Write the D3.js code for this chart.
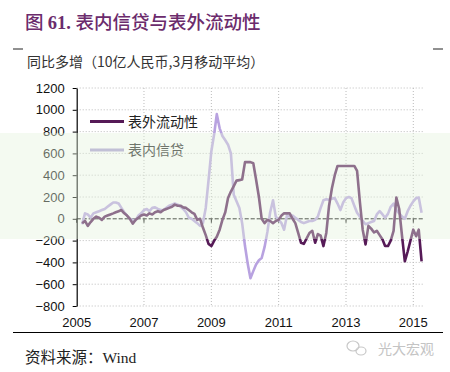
<html>
<head>
<meta charset="utf-8">
<script src="https://cdn.jsdelivr.net/npm/d3@7"></script>
<style>
  body { margin: 0; background: #fff; }
  text { font-family: "Liberation Sans", Arial, "Noto Sans CJK SC", sans-serif; }
  .cjk { font-family: "Noto Sans CJK SC", sans-serif; }
</style>
</head>
<body>
<script>
// 3-month moving average, yoy increase, bn RMB, monthly Mar 2005 .. Apr 2015
var offBalance = [
  -40, -20, -65, -30, 0, 20, 10, -10, 20, 30,                 // 2005 Mar-Dec
  40, 50, 60, 70, 80, 50, 30, 0, -45, -10, 10, 30,            // 2006
  40, 30, 50, 40, 60, 70, 60, 80, 90, 100, 110, 130,          // 2007
  120, 120, 105, 100, 80, 60, 45, -10, 0, -80, -150, -230,    // 2008
  -250, -200, -165, -100, -10, 60, 190, 250, 300, 350, 355, 360, // 2009
  520, 520, 520, 510, 360, 200, 0, -40, -10, -20, -40, -20,   // 2010
  -10, 30, 50, 50, 50, 0, -40, -130, -220, -230, -180, -130,  // 2011
  -110, -220, -140, -155, -250, -130, 120, 280, 400, 485, 485, 485, // 2012
  485, 485, 485, 485, 440, 150, -100, -235, -65, -90, -125, -110,   // 2013
  -150, -190, -250, -250, -200, -110, 195, 90, -160, -390, -300, -200, // 2014
  -100, -160, -100, -390                                      // 2015 Jan-Apr
];
var onBalance = [
  -50, 50, 40, 10, 50, 60, 70, 80, 90, 110,
  130, 150, 150, 140, 100, 60, 30, 0, -10, -15, 30, 50,
  80, 90, 70, 100, 105, 90, 80, 80, 100, 120, 130, 140,
  130, 110, 90, 60, 10, 0, -20, -40, -65, -40, 100, 350,
  620, 780, 960, 830, 760, 720, 680, 600, 220, 160, 100, -40,
  -250, -420, -545, -480, -420, -380, -360, -260, -120, 60, 170, 20,
  -10, -40, -100, 30, 20, 30, 10, -10, -30, -40, -30, -20,
  -20, -10, 20, 100, 170, 180, 175, 185, 190, 140, 80, 150,
  190, 200, 190, 120, 55, 20, -20, -50, -40, -30, -20, 40,
  70, 40, 10, 45, 110, 140, 80, 50, 20, 0, 70, 120,
  160, 190, 195, 55
];
var months = d3.timeMonth.range(new Date(2005, 2, 1), new Date(2015, 4, 1));
var yTicks = [-800, -600, -400, -200, 0, 200, 400, 600, 800, 1000, 1200];
var xTickYears = [2005, 2007, 2009, 2011, 2013, 2015];
var seriesNames = ['表外流动性', '表内信贷'];

var w = 450, h = 372;
var pLeft = 76.7, pRight = 423, pTop = 88, pBottom = 306;

var svg = d3.select('body').append('svg')
  .attr('width', w)
  .attr('height', h);

var x = d3.scaleTime()
  .domain([new Date(2005, 0, 1), new Date(2015, 0, 1)])
  .range([pLeft, 413.3]);
var y = d3.scaleLinear()
  .domain([-800, 1200])
  .range([pBottom, pTop]);

// title
var title = svg.append('text')
  .attr('x', 25).attr('y', 29)
  .attr('fill', '#6b2b6c')
  .style('font-size', '18.5px');
title.append('tspan').attr('class', 'cjk').style('font-weight', 500).text('图 ');
title.append('tspan').style('font-family', '"Liberation Serif", serif').style('font-weight', 'bold').text('61. ');
title.append('tspan').attr('class', 'cjk').style('font-weight', 500).text('表内信贷与表外流动性');

svg.append('line').attr('x1', 13).attr('x2', 23).attr('y1', 49).attr('y2', 49).attr('stroke', '#222');
svg.append('line').attr('x1', 433).attr('x2', 443).attr('y1', 49).attr('y2', 49).attr('stroke', '#222');

svg.append('text')
  .attr('class', 'cjk')
  .attr('x', 27).attr('y', 67)
  .attr('fill', '#333')
  .style('font-size', '14px')
  .text('同比多增（10亿人民币,3月移动平均）');

// grid
svg.append('g').selectAll('line')
  .data(yTicks).enter()
  .append('line')
  .attr('x1', pLeft).attr('x2', pRight)
  .attr('y1', function(d) { return y(d); })
  .attr('y2', function(d) { return y(d); })
  .attr('stroke', '#bbb')
  .attr('stroke-dasharray', '1,2');
svg.append('g').selectAll('line')
  .data(xTickYears.slice(1)).enter()
  .append('line')
  .attr('x1', function(d) { return x(new Date(d, 0, 1)); })
  .attr('x2', function(d) { return x(new Date(d, 0, 1)); })
  .attr('y1', pTop).attr('y2', pBottom)
  .attr('stroke', '#bbb')
  .attr('stroke-dasharray', '1,2');

// y axis
var yAxis = svg.append('g')
  .attr('transform', 'translate(' + pLeft + ',0)')
  .call(d3.axisLeft(y).tickValues(yTicks).tickFormat(d3.format('d'))
    .tickSize(4).tickPadding(8).tickSizeOuter(0));
yAxis.select('.domain').attr('stroke', '#000').attr('stroke-width', 1.2);
yAxis.selectAll('text').style('font-size', '13px').attr('fill', '#111');

// zero line with ticks
svg.append('line')
  .attr('x1', pLeft).attr('x2', pRight)
  .attr('y1', y(0)).attr('y2', y(0))
  .attr('stroke', '#000')
  .attr('stroke-dasharray', '4,2');
svg.append('g').selectAll('line')
  .data(xTickYears).enter()
  .append('line')
  .attr('x1', function(d) { return x(new Date(d, 0, 1)); })
  .attr('x2', function(d) { return x(new Date(d, 0, 1)); })
  .attr('y1', y(0)).attr('y2', y(0) + 4)
  .attr('stroke', '#000');

// x labels at bottom
svg.append('g').selectAll('text')
  .data(xTickYears).enter()
  .append('text')
  .attr('x', function(d) { return x(new Date(d, 0, 1)); })
  .attr('y', 327)
  .attr('text-anchor', 'middle')
  .attr('fill', '#111')
  .style('font-size', '13px')
  .text(function(d) { return d; });

// lines
var line = d3.line()
  .x(function(d, i) { return x(months[i]); })
  .y(function(d) { return y(d); });

svg.append('path')
  .datum(onBalance)
  .attr('d', line)
  .attr('fill', 'none')
  .attr('stroke', '#b8a2e0')
  .attr('stroke-width', 2.6)
  .attr('stroke-linejoin', 'round');
svg.append('path')
  .datum(offBalance)
  .attr('d', line)
  .attr('fill', 'none')
  .attr('stroke', '#561a57')
  .attr('stroke-width', 2.6)
  .attr('stroke-linejoin', 'round');

// legend
var legend = svg.append('g');
[['#561a57', 121.5], ['#ab9fd2', 150]].forEach(function(c, i) {
  legend.append('line')
    .attr('x1', 90).attr('x2', 124)
    .attr('y1', c[1]).attr('y2', c[1])
    .attr('stroke', c[0]).attr('stroke-width', 3);
  legend.append('text')
    .attr('class', 'cjk')
    .attr('x', 128).attr('y', c[1] + 5)
    .attr('fill', '#222')
    .style('font-size', '14px')
    .text(seriesNames[i]);
});

// faint band (as in the scanned picture)
svg.append('rect')
  .attr('x', 0).attr('y', 133)
  .attr('width', w).attr('height', 106)
  .attr('fill', '#e4f3dc')
  .attr('opacity', 0.4);

// footer
svg.append('line').attr('x1', 13).attr('x2', 443).attr('y1', 332.5).attr('y2', 332.5)
  .attr('stroke', '#000').attr('stroke-width', 1.2);
var src = svg.append('text').attr('x', 25).attr('y', 363).attr('fill', '#222').style('font-size', '15.5px');
src.append('tspan').attr('class', 'cjk').text('资料来源：');
src.append('tspan').style('font-family', '"Liberation Serif", serif').text('Wind');

var wx = svg.append('g').attr('fill', 'none').attr('stroke', '#c8c8c8').attr('stroke-width', 1.2);
wx.append('ellipse').attr('cx', 353).attr('cy', 346).attr('rx', 6).attr('ry', 5);
wx.append('ellipse').attr('cx', 361).attr('cy', 351).attr('rx', 5).attr('ry', 4);
svg.append('text')
  .attr('class', 'cjk')
  .attr('x', 378).attr('y', 354)
  .attr('fill', '#c4c4c4')
  .style('font-size', '14px')
  .text('光大宏观');
</script>
</body>
</html>
